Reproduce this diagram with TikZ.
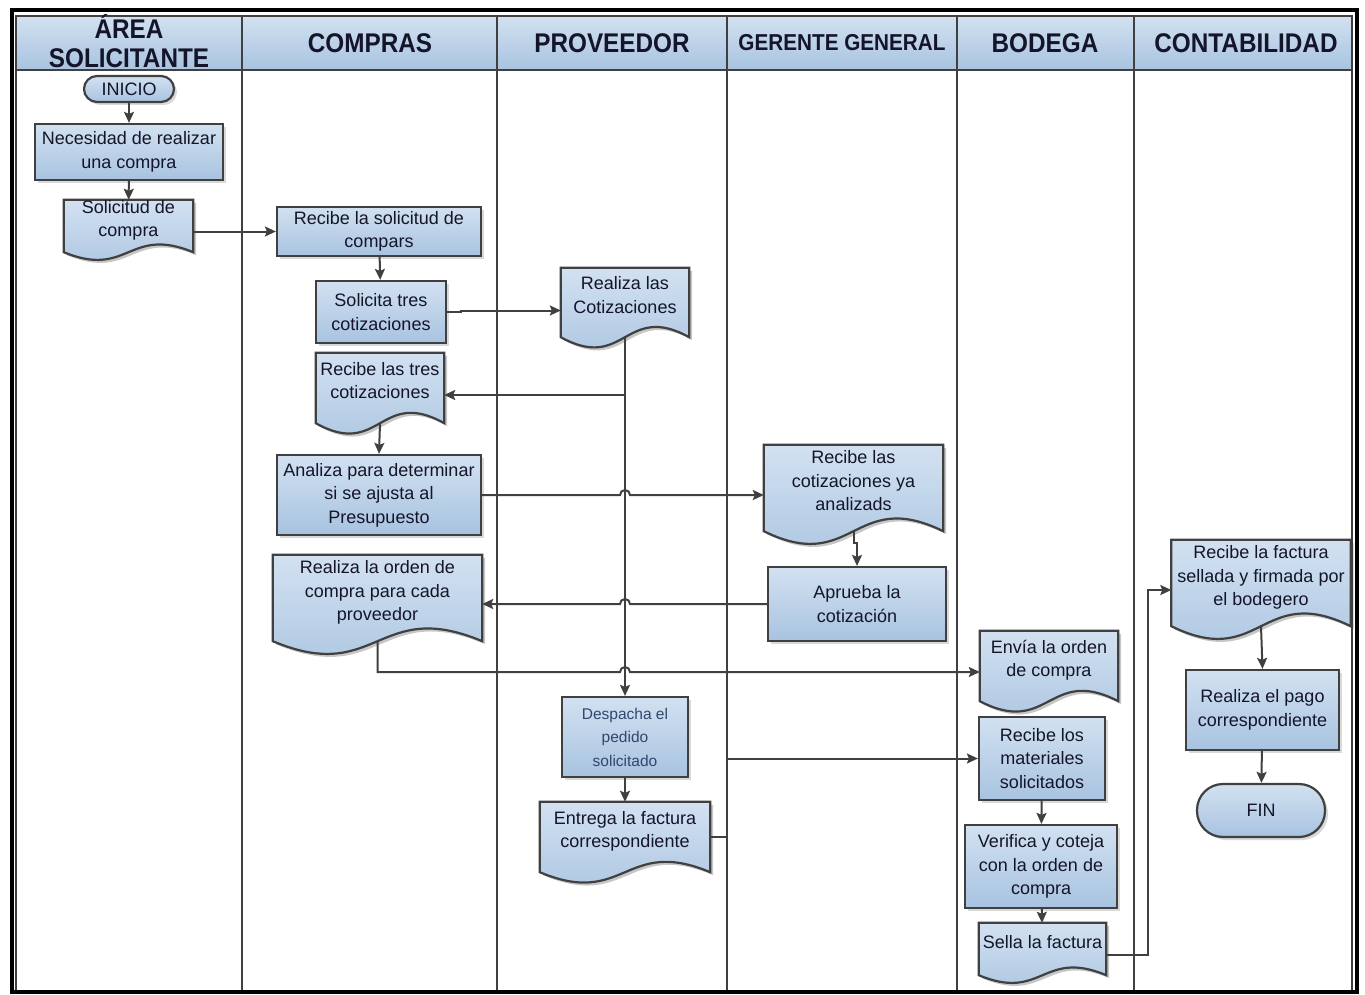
\documentclass[tikz,border=0pt]{standalone}
\usepackage{fontspec}
\setmainfont{Liberation Sans}
\newfontfamily\headfont[FakeStretch=0.9]{Liberation Sans}
\usetikzlibrary{arrows.meta,positioning,calc,shadows,backgrounds}
\definecolor{boxtop}{HTML}{D2E1F1}
\definecolor{boxbot}{HTML}{A8C3E0}
\definecolor{edge}{HTML}{404040}
\definecolor{ink}{HTML}{15152A}
\definecolor{despink}{HTML}{33466E}

% document shape: node box with a wavy bottom edge
\newcommand{\docpath}[3]{%
  let \p1=(#1.north west), \p2=(#1.south east),
      \n1={0.15*(\y1-\y2)}, \n2={(\x1+\x2)/2} in
  (\x1+#2,\y1+#3) -- (\x2+#2,\y1+#3) -- (\x2+#2,\y2+#3)
  .. controls (\n2+#2,\y2+3.4*\n1+#3) and (\n2+#2,\y2-3.4*\n1+#3) .. (\x1+#2,\y2+#3) -- cycle}

\tikzset{
  lane/.style={draw=edge, line width=2pt},
  head/.style={font=\headfont\bfseries\fontsize{27}{29}\selectfont, text=ink, align=center},
  fillbox/.style={top color=boxtop, bottom color=boxbot},
  txt/.style={inner sep=0pt, align=center, text=ink, font=\fontsize{18}{23.5}\selectfont},
  procbox/.style={txt, draw=edge, line width=2.2pt, fillbox,
    drop shadow={shadow xshift=3pt, shadow yshift=-3pt, fill=black!25, opacity=0.6}},
  docbox/.style={txt, text depth=15pt},
  docline/.style={draw=edge, line width=2.2pt, fillbox},
  flow/.style={draw=edge, line width=2pt, -{Stealth[length=11pt,width=10pt,inset=2pt]}},
}

\begin{document}
\begin{tikzpicture}[x=1pt,y=-1pt]
  \useasboundingbox (0,0) rectangle (1365,995);

  % Swimlanes
  \draw[fillbox, draw=edge, line width=2pt] (16,16) rectangle (1352,70);
  \foreach \x in {16,242,497,727,957,1134,1352}
    \draw[lane] (\x,16) -- (\x,992);
  \coordinate (gerL) at (727,70);
  \draw[black, line width=4pt] (12,10) rectangle (1357,992);

  \node[head] (hsol) at (129,41) {ÁREA\\SOLICITANTE};
  \node[head] (hcom) at (370,43) {COMPRAS};
  \node[head] (hpro) at (612,43) {PROVEEDOR};
  \node[head, font=\headfont\bfseries\fontsize{23}{25}\selectfont] (hger) at (842,43) {GERENTE GENERAL};
  \node[head] (hbod) at (1045,43) {BODEGA};
  \node[head] (hcon) at (1246,43) {CONTABILIDAD};

  % Area solicitante
  \node[procbox, rounded corners=13pt, minimum width=90pt, minimum height=26pt] (ini) at (129,89) {INICIO};
  \node[procbox, minimum width=188pt, minimum height=56pt] (nec) at (129,152) {Necesidad de realizar\\una compra};
  \node[docbox, minimum width=129pt, minimum height=52pt] (solic) at (128.5,226) {Solicitud de\\compra};

  % Compras
  \node[procbox, minimum width=204pt, minimum height=49pt] (rsol) at (379,231.5) {Recibe la solicitud de\\compars};
  \node[procbox, minimum width=130pt, minimum height=62pt] (soltres) at (381,312) {Solicita tres\\cotizaciones};
  \node[docbox, minimum width=128pt, minimum height=70pt] (rtres) at (380,388) {Recibe las tres\\cotizaciones};
  \node[procbox, minimum width=204pt, minimum height=80pt] (ana) at (379,495) {Analiza para determinar\\si se ajusta al\\Presupuesto};
  \node[docbox, minimum width=209pt, minimum height=86pt] (orden) at (377.5,598) {Realiza la orden de\\compra para cada\\proveedor};

  % Proveedor
  \node[docbox, minimum width=128pt, minimum height=69pt] (cot) at (625,302.5) {Realiza las\\Cotizaciones};
  \node[procbox, minimum width=126pt, minimum height=80pt, text=despink,
        font=\fontsize{15.5}{23.5}\selectfont] (desp) at (625,737) {Despacha el\\pedido\\solicitado};
  \node[docbox, minimum width=170pt, minimum height=70pt] (ent) at (625,837) {Entrega la factura\\correspondiente};

  % Gerente general
  \node[docbox, minimum width=179pt, minimum height=86pt] (rcya) at (853.5,488) {Recibe las\\cotizaciones ya\\analizads};
  \node[procbox, minimum width=178pt, minimum height=74pt] (apr) at (857,604) {Aprueba la\\cotización};

  % Bodega
  \node[docbox, minimum width=138pt, minimum height=70pt] (envia) at (1049,666) {Envía la orden\\de compra};
  \node[procbox, minimum width=126pt, minimum height=83pt] (rmat) at (1042,758.5) {Recibe los\\materiales\\solicitados};
  \node[procbox, minimum width=152pt, minimum height=83pt] (verif) at (1041,866.5) {Verifica y coteja\\con la orden de\\compra};
  \node[docbox, minimum width=127pt, minimum height=52pt] (sella) at (1042.5,949) {Sella la factura};

  % Contabilidad
  \node[docbox, minimum width=179pt, minimum height=86pt] (rfac) at (1261,583) {Recibe la factura\\sellada y firmada por\\el bodegero};
  \node[procbox, minimum width=153pt, minimum height=80pt] (pago) at (1262.5,710) {Realiza el pago\\correspondiente};
  \node[procbox, rounded corners=26pt, minimum width=128pt, minimum height=53pt] (fin) at (1261,810.5) {FIN};

  \begin{pgfonlayer}{background}
    \foreach \d in {solic,rtres,orden,cot,ent,rcya,envia,sella,rfac} {
      \fill[black!22] \docpath{\d}{3pt}{-3pt};
      \draw[docline] \docpath{\d}{0pt}{0pt};
    }
  \end{pgfonlayer}

  % Connectors
  \draw[flow] (ini) -- (nec);
  \draw[flow] (nec) -- (solic);
  \draw[flow] (solic.east |- rsol.west) -- (rsol.west);
  \draw[flow] (rsol) -- (soltres);
  \draw[flow] (soltres.east) -- ++(14,0) |- ($(cot.west)+(0,8)$);
  \draw[flow] (cot.south) -- (desp.north);
  \draw[flow] ($(cot.south |- rtres.east)+(0,7)$) -- ($(rtres.east)+(0,7)$);
  \draw[flow] (rtres.south) -- (ana.north);
  \draw[flow] (ana.east) -- ($(ana.east -| desp.north)+(-5,0)$)
    arc[start angle=180, end angle=0, radius=5pt] -- (ana.east -| rcya.west);
  \draw[flow] (rcya.south) -- ++(0,12) -| (apr.north);
  \draw[flow] (apr.west) -- ($(apr.west -| desp.north)+(5,0)$)
    arc[start angle=0, end angle=180, radius=5pt] -- (apr.west -| orden.east);
  \draw[flow] (orden.south) |- ($(desp.north |- envia.west)+(-5,6)$)
    arc[start angle=180, end angle=0, radius=5pt] -- ($(envia.west)+(0,6)$);
  \draw[flow] (desp) -- (ent);
  \draw[flow] (ent.east) -- (ent.east -| gerL) |- (rmat.west);
  \draw[flow] (rmat) -- (verif);
  \draw[flow] (verif) -- (sella);
  \draw[flow] ($(sella.east)+(0,6)$) -- ++(42,0) |- ($(rfac.west)+(0,7)$);
  \draw[flow] (rfac.south) -- (pago.north);
  \draw[flow] (pago) -- (fin);
\end{tikzpicture}
\end{document}
